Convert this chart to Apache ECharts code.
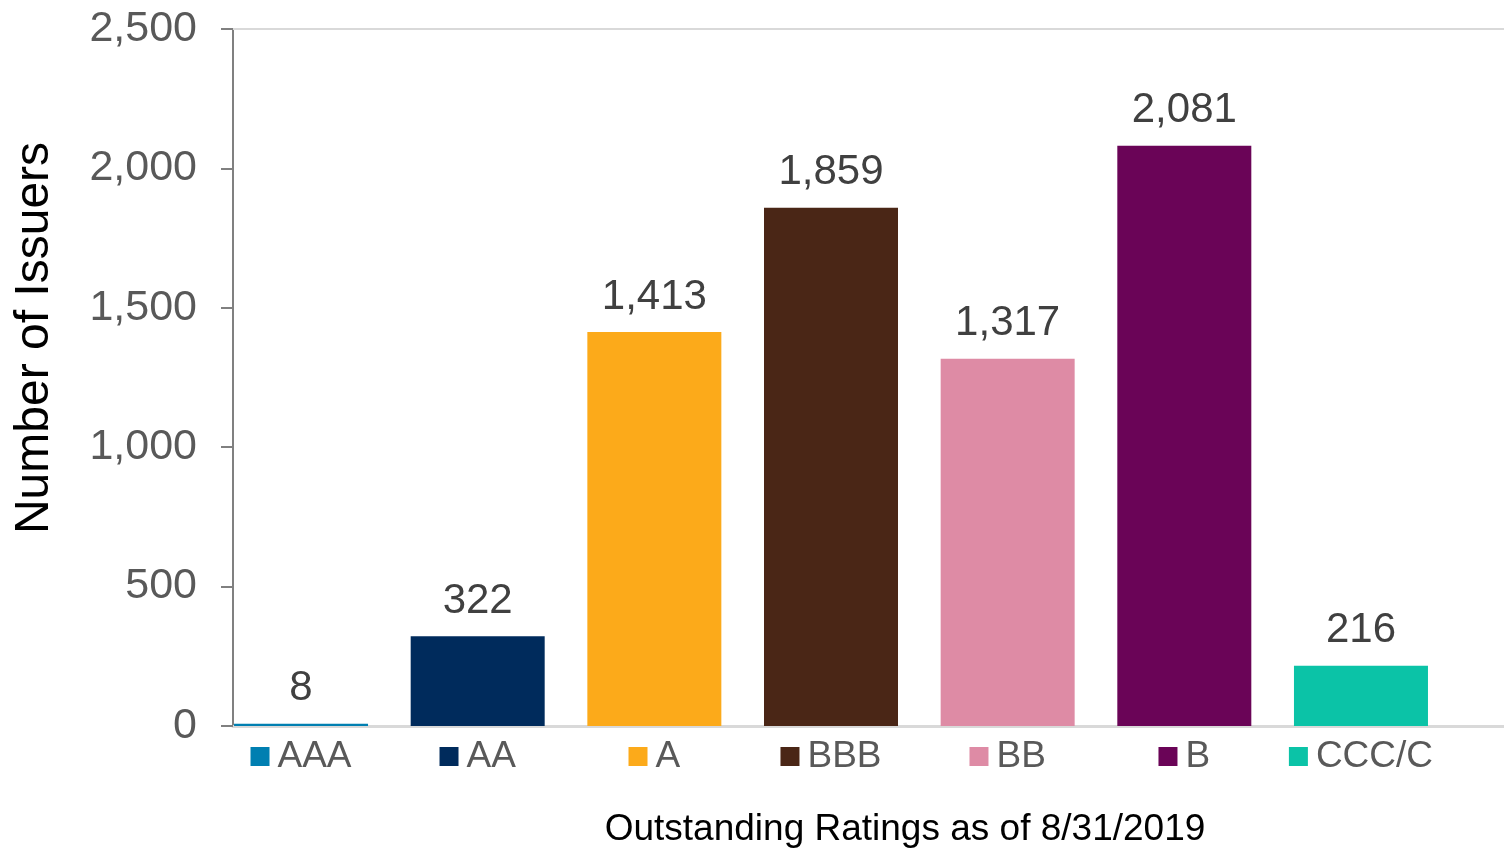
<!DOCTYPE html>
<html>
<head>
<meta charset="utf-8">
<script src="https://cdn.jsdelivr.net/npm/echarts@6/dist/echarts.min.js"></script>
<style>
  html, body { margin: 0; padding: 0; background: #fff; }
  #main { width: 1504px; height: 851px; }
</style>
</head>
<body>
<div id="main"></div>
<script>
// ratings categories and issuer counts
var ratings = ['AAA', 'AA', 'A', 'BBB', 'BB', 'B', 'CCC/C'];
var issuers = [8, 322, 1413, 1859, 1317, 2081, 216];
var barColors = ['#007fb1', '#002b5c', '#fcaa1a', '#4a2616', '#de8ba5', '#6a0457', '#0bc3a7'];
var yTicks = [0, 500, 1000, 1500, 2000, 2500];

var font = 'Liberation Sans, Arial, sans-serif';

// rich styles for x labels: a colored square before each rating
var rich = { t: { fontSize: 37, color: '#595959', fontFamily: font, padding: [0, 0, 0, 8] } };
ratings.forEach(function (r, i) {
    rich['s' + i] = { width: 19, height: 19, backgroundColor: barColors[i] };
});

var chart = echarts.init(document.getElementById('main'));

var option = {
    animation: false,
    // grid 0 holds the bars, grid 1 the visible frame and value axis
    grid: [
        { left: 212.7, right: 54.7, top: 29, bottom: 125 },
        { left: 233, right: 0, top: 29, bottom: 125 }
    ],
    xAxis: [{
        type: 'category',
        gridIndex: 0,
        data: ratings,
        axisLine: { show: false },
        axisTick: { show: false },
        axisLabel: {
            margin: 12,
            formatter: function (v, i) {
                return '{s' + i + '|}{t|' + v + '}';
            },
            rich: rich
        }
    }, {
        type: 'category',
        gridIndex: 1,
        data: ratings,
        axisLine: { lineStyle: { color: '#d9d9d9', width: 3 } },
        axisTick: { show: false },
        axisLabel: { show: false }
    }, {
        // top border line of plot area
        type: 'category',
        gridIndex: 1,
        position: 'top',
        data: ratings,
        axisLine: { lineStyle: { color: '#d9d9d9', width: 2 } },
        axisTick: { show: false },
        axisLabel: { show: false }
    }],
    yAxis: [{
        type: 'value',
        gridIndex: 0,
        min: yTicks[0],
        max: yTicks[yTicks.length - 1],
        show: false
    }, {
        type: 'value',
        gridIndex: 1,
        min: yTicks[0],
        max: yTicks[yTicks.length - 1],
        interval: 500,
        axisLine: { show: true, lineStyle: { color: '#808080', width: 2 } },
        axisTick: { show: true, length: 12, lineStyle: { color: '#808080', width: 2 } },
        splitLine: { show: false },
        axisLabel: {
            margin: 36,
            fontSize: 43,
            color: '#595959',
            fontFamily: font,
            formatter: function (v) { return v.toLocaleString('en-US'); }
        }
    }],
    series: [{
        type: 'bar',
        xAxisIndex: 0,
        yAxisIndex: 0,
        data: issuers.map(function (v, i) {
            return { value: v, itemStyle: { color: barColors[i] } };
        }),
        barWidth: 134,
        label: {
            show: true,
            position: 'top',
            distance: 14,
            fontSize: 42,
            color: '#404040',
            fontFamily: font,
            formatter: function (p) { return p.value.toLocaleString('en-US'); }
        }
    }],
    graphic: [{
        type: 'text',
        x: 905,
        y: 830,
        style: {
            text: 'Outstanding Ratings as of 8/31/2019',
            fontSize: 37,
            fontFamily: font,
            fill: '#000',
            textAlign: 'center',
            textVerticalAlign: 'middle'
        }
    }, {
        type: 'text',
        x: 35,
        y: 338,
        rotation: Math.PI / 2,
        style: {
            text: 'Number of Issuers',
            fontSize: 48,
            fontFamily: font,
            fill: '#000',
            textAlign: 'center',
            textVerticalAlign: 'middle'
        }
    }]
};

chart.setOption(option);
</script>
</body>
</html>
